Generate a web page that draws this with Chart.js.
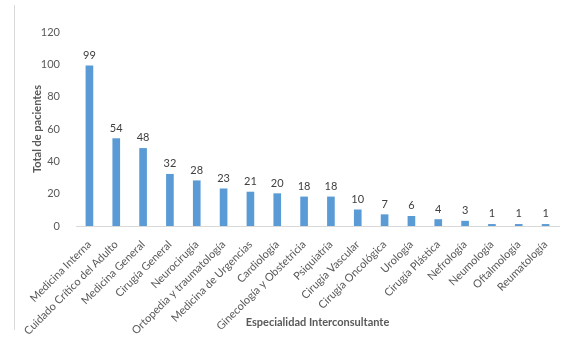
<!DOCTYPE html>
<html>
<head>
<meta charset="utf-8">
<script src="https://cdn.jsdelivr.net/npm/chart.js@4/dist/chart.umd.min.js"></script>
<style>
  html, body { margin: 0; padding: 0; background: #ffffff; }
  #wrap { position: relative; width: 573px; height: 345px; }
  #frame { position: absolute; left: 14px; top: 5px; width: 1px; height: 325px; background: #d9d9d9; }
  canvas { position: absolute; left: 0; top: 0; }
</style>
</head>
<body>
<div id="wrap">
  <div id="frame"></div>
  <canvas id="c" width="573" height="345"></canvas>
</div>
<script>
const categories = [
  "Medicina Interna", "Cuidado Crítico del Adulto", "Medicina General", "Cirugía General",
  "Neurocirugía", "Ortopedia y traumatología", "Medicina de Urgencias", "Cardiología",
  "Ginecología y Obstetricia", "Psiquiatría", "Cirugía Vascular", "Cirugía Oncológica",
  "Urología", "Cirugía Plástica", "Nefrología", "Neumología", "Oftalmología", "Reumatología"
];
const patients = [99, 54, 48, 32, 28, 23, 21, 20, 18, 18, 10, 7, 6, 4, 3, 1, 1, 1];
const yTicks = [0, 20, 40, 60, 80, 100, 120];
const yTitle = "Total de pacientes";
const xTitle = "Especialidad Interconsultante";

const FONT = "Lato, 'Open Sans', sans-serif";

const valueLabels = {
  id: 'valueLabels',
  afterDatasetsDraw(chart) {
    const ctx = chart.ctx;
    const meta = chart.getDatasetMeta(0);
    ctx.save();
    ctx.font = "11px " + FONT;
    ctx.fillStyle = "#404040";
    ctx.textAlign = "center";
    ctx.textBaseline = "bottom";
    meta.data.forEach((bar, i) => {
      ctx.fillText(String(chart.data.datasets[0].data[i]), bar.x, bar.y - 5);
    });
    ctx.restore();
  }
};

new Chart(document.getElementById('c'), {
  type: 'bar',
  data: {
    labels: categories,
    datasets: [{
      data: patients,
      backgroundColor: '#5B9BD5',
      borderWidth: 0,
      barThickness: 7
    }]
  },
  options: {
    responsive: false,
    animation: false,
    devicePixelRatio: 1,
    layout: { padding: { left: 14, right: 14, top: 32, bottom: 10 } },
    plugins: { legend: { display: false }, tooltip: { enabled: false } },
    scales: {
      x: {
        grid: { display: false },
        border: { display: true, color: '#d9d9d9', dash: [1, 1], width: 1 },
        ticks: {
          color: '#595959',
          font: { family: FONT, size: 11 },
          maxRotation: 45, minRotation: 45,
          padding: 4,
          autoSkip: false
        },
        title: {
          display: true, text: xTitle, color: '#595959',
          font: { family: FONT, size: 11, weight: 'bold' },
          padding: { top: 0, bottom: 6 }
        },
        afterFit(scale) { scale.height = 345 - 10 - 226; }
      },
      y: {
        min: 0, max: 120,
        afterBuildTicks(scale) { scale.ticks = yTicks.map(v => ({ value: v })); },
        grid: { display: false },
        border: { display: false },
        ticks: {
          color: '#595959',
          font: { family: FONT, size: 11 },
          padding: 8
        },
        title: {
          display: true, text: yTitle, color: '#595959',
          font: { family: FONT, size: 11, weight: 'bold' },
          padding: { top: 17, bottom: 0 }
        },
        afterFit(scale) { scale.width = 62; }
      }
    }
  },
  plugins: [valueLabels]
});
</script>
</body>
</html>
